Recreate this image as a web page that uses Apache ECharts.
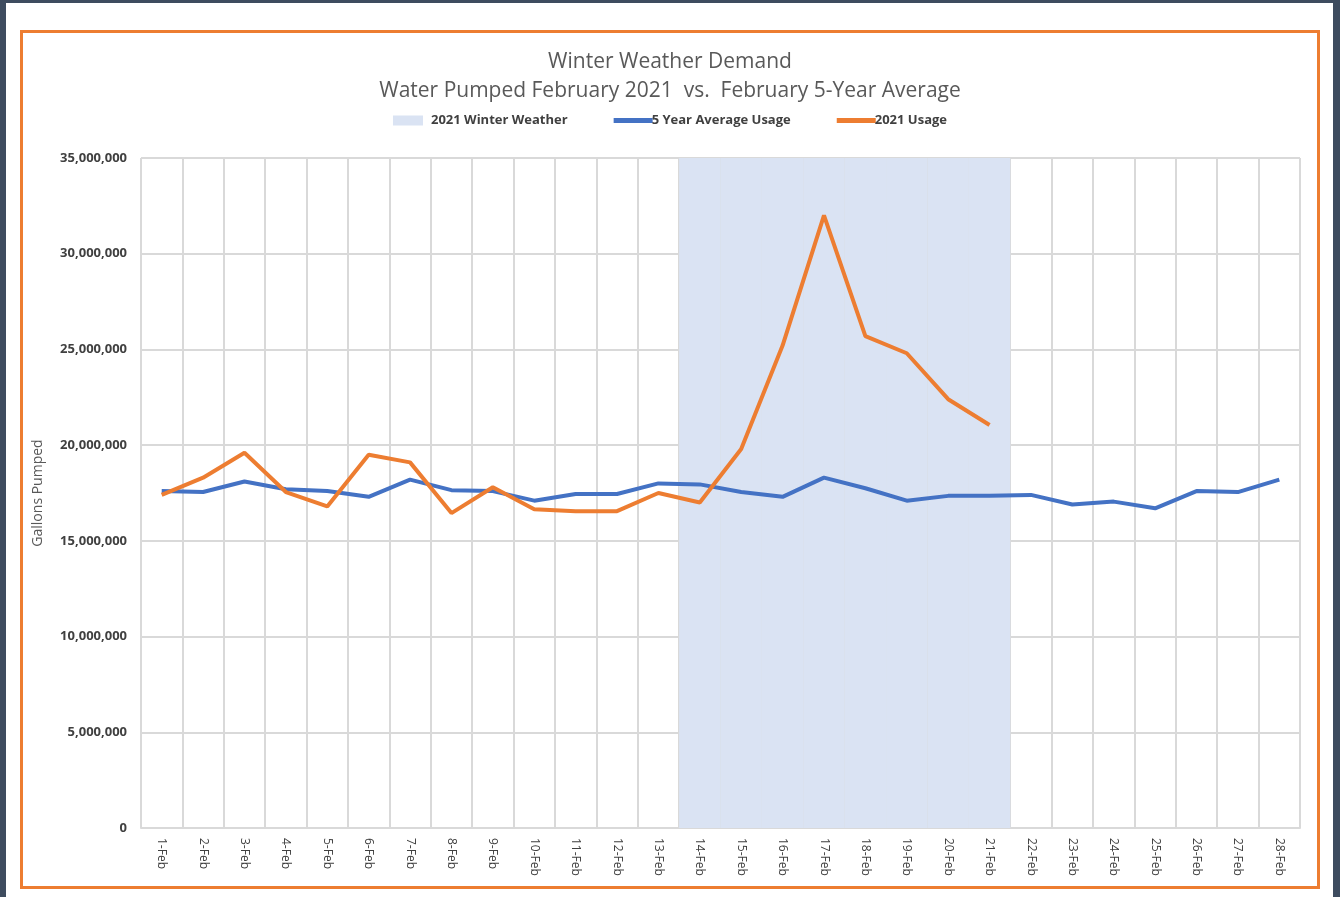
<!DOCTYPE html>
<html>
<head>
<meta charset="utf-8">
<script src="https://cdn.jsdelivr.net/npm/echarts@6/dist/echarts.min.js"></script>
<style>
    body { margin: 0; background: #3e4c5f; width: 1340px; height: 897px; overflow: hidden; }
    .page { position: absolute; left: 6px; top: 3px; width: 1327px; height: 900px; background: #ffffff; }
    .frame { position: absolute; left: 20px; top: 30px; width: 1294px; height: 853px; border: 3px solid #ed7d31; background: #fff; }
    #chart { width: 1294px; height: 853px; }
</style>
</head>
<body>
<div class="page"></div>
<div class="frame"><div id="chart"></div></div>
<script>
    const days = ['1-Feb', '2-Feb', '3-Feb', '4-Feb', '5-Feb', '6-Feb', '7-Feb', '8-Feb', '9-Feb', '10-Feb',
        '11-Feb', '12-Feb', '13-Feb', '14-Feb', '15-Feb', '16-Feb', '17-Feb', '18-Feb', '19-Feb', '20-Feb',
        '21-Feb', '22-Feb', '23-Feb', '24-Feb', '25-Feb', '26-Feb', '27-Feb', '28-Feb'];

    const avgUsage = [17600000, 17550000, 18100000, 17700000, 17600000, 17300000, 18200000, 17650000, 17600000, 17100000,
        17450000, 17450000, 18000000, 17950000, 17550000, 17300000, 18300000, 17750000, 17100000, 17350000,
        17350000, 17400000, 16900000, 17050000, 16700000, 17600000, 17550000, 18200000];

    const usage2021 = [17400000, 18300000, 19600000, 17550000, 16800000, 19500000, 19100000, 16450000, 17800000, 16650000,
        16550000, 16550000, 17500000, 17000000, 19800000, 25200000, 32000000, 25700000, 24800000, 22400000,
        21050000, null, null, null, null, null, null, null];

    // shaded band: 14-Feb .. 21-Feb
    const winterWeather = [null, null, null, null, null, null, null, null, null, null,
        null, null, null, 35000000, 35000000, 35000000, 35000000, 35000000, 35000000, 35000000,
        35000000, null, null, null, null, null, null, null];

    const yTicks = { min: 0, max: 35000000, interval: 5000000 };

    const font = '"Open Sans", "Noto Sans", sans-serif';
    // thin bar inside a 10px-high box, so the line icons look like Excel's
    const lineIcon = 'path://M0,0 M39,10 M0,2.5 L39,2.5 L39,7.5 L0,7.5 Z';
    const boxIcon = 'path://M0,0 L30,0 L30,10 L0,10 Z M39,0';

    const chart = echarts.init(document.getElementById('chart'));

    const option = {
        animation: false,
        textStyle: { fontFamily: font },
        title: {
            text: 'Winter Weather Demand\nWater Pumped February 2021  vs.  February 5-Year Average',
            left: 'center',
            top: 10,
            textStyle: { fontFamily: font, fontSize: 21, fontWeight: 'normal', color: '#595959', lineHeight: 29 }
        },
        legend: {
            top: 76,
            left: 'center',
            itemGap: 46,
            itemWidth: 39,
            itemHeight: 10,
            textStyle: { fontFamily: font, fontSize: 13, fontWeight: 'bold', color: '#404040', padding: [0, 0, 0, -6] },
            data: [
                { name: '2021 Winter Weather', icon: boxIcon },
                { name: '5 Year Average Usage', icon: lineIcon },
                { name: '2021 Usage', icon: lineIcon }
            ]
        },
        grid: { left: 118, right: 17, top: 125, bottom: 58 },
        xAxis: {
            type: 'category',
            data: days,
            boundaryGap: true,
            axisLine: { lineStyle: { color: '#d9d9d9', width: 2 } },
            axisTick: { show: false },
            splitLine: { show: true, lineStyle: { color: '#d9d9d9', width: 2 } },
            axisLabel: { rotate: -90, interval: 0, fontSize: 12, color: '#404040', margin: 10 }
        },
        yAxis: {
            type: 'value',
            min: yTicks.min,
            max: yTicks.max,
            interval: yTicks.interval,
            name: 'Gallons Pumped',
            nameLocation: 'middle',
            nameGap: 96,
            nameTextStyle: { fontFamily: font, fontSize: 14, color: '#595959' },
            axisLine: { show: false },
            axisTick: { show: false },
            splitLine: { lineStyle: { color: '#d9d9d9', width: 2 } },
            axisLabel: {
                fontSize: 13, fontWeight: 'bold', color: '#404040', margin: 14,
                formatter: v => v.toLocaleString('en-US')
            }
        },
        series: [
            {
                name: '2021 Winter Weather',
                type: 'bar',
                data: winterWeather,
                barWidth: '100%',
                itemStyle: { color: '#dae3f3' },
                z: 1
            },
            {
                name: '5 Year Average Usage',
                type: 'line',
                data: avgUsage,
                symbol: 'none',
                lineStyle: { color: '#4472c4', width: 4 },
                itemStyle: { color: '#4472c4' },
                z: 3
            },
            {
                name: '2021 Usage',
                type: 'line',
                data: usage2021,
                symbol: 'none',
                lineStyle: { color: '#ed7d31', width: 4 },
                itemStyle: { color: '#ed7d31' },
                z: 4
            }
        ]
    };

    chart.setOption(option);
</script>
</body>
</html>
